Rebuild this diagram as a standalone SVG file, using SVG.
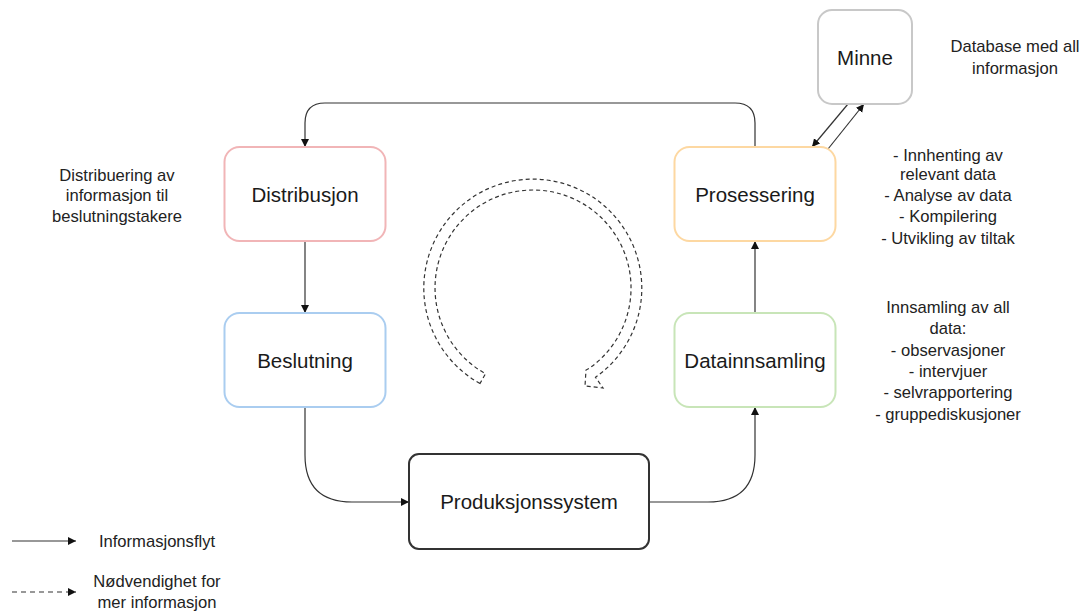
<svg xmlns="http://www.w3.org/2000/svg" width="1086" height="612" viewBox="0 0 1086 612">
  <style>
    .node { fill: #ffffff; stroke-width: 2; }
    .label { font-family: "Liberation Sans", Arial, sans-serif; font-size: 20.5px; fill: #1a1a1a; text-anchor: middle; dominant-baseline: central; }
    .note { font-family: "Liberation Sans", Arial, sans-serif; font-size: 16.6px; fill: #222222; text-anchor: middle; dominant-baseline: central; }
    .edge { fill: none; stroke: #333333; stroke-width: 1.2; }
    .dash { fill: none; stroke: #333333; stroke-width: 1.2; stroke-dasharray: 4 3; }
  </style>
  <defs>
    <marker id="arrow" markerUnits="userSpaceOnUse" markerWidth="10" markerHeight="10" refX="8" refY="4" orient="auto">
      <path d="M0,0 L8,4 L0,8 z" fill="#111111"/>
    </marker>
  </defs>

  <rect width="1086" height="612" fill="#ffffff"/>

  <!-- connectors -->
  <g id="connectors">
    <path class="edge" d="M755,147 L755,123 Q755,103 735,103 L325,103 Q305,103 305,123 L305,147" marker-end="url(#arrow)"/>
    <path class="edge" d="M305,241 L305,313" marker-end="url(#arrow)"/>
    <path class="edge" d="M305,407 L305,455 Q305,502 352,502 L409,502" marker-end="url(#arrow)"/>
    <path class="edge" d="M649,502 L708,502 Q755,502 755,455 L755,407" marker-end="url(#arrow)"/>
    <path class="edge" d="M755,313 L755,241" marker-end="url(#arrow)"/>
    <path class="edge" d="M848,104 L812,147" marker-end="url(#arrow)"/>
    <path class="edge" d="M828,149 L864,104" marker-end="url(#arrow)"/>
  </g>

  <!-- circular cycle arrow -->
  <g id="cycle">
    <path class="dash" d="M480,383.5 A109,109 0 1 1 595.5,377.3 L603,388 L585,386 L586,370 L589.2,368.3 A98,98 0 1 0 485.5,373.7 Z"/>
  </g>

  <!-- nodes -->
  <g id="distribusjon">
    <rect class="node" x="224.5" y="147" width="161" height="94" rx="15" stroke="#f1b5b7"/>
    <text class="label" x="305" y="194">Distribusjon</text>
  </g>
  <g id="beslutning">
    <rect class="node" x="224.5" y="313" width="161" height="94" rx="15" stroke="#aacdf0"/>
    <text class="label" x="305" y="360">Beslutning</text>
  </g>
  <g id="prosessering">
    <rect class="node" x="674.5" y="147" width="161" height="94" rx="15" stroke="#fdd8a2"/>
    <text class="label" x="755" y="194">Prosessering</text>
  </g>
  <g id="datainnsamling">
    <rect class="node" x="674.5" y="313" width="161" height="94" rx="15" stroke="#c8e5b8"/>
    <text class="label" x="755" y="360">Datainnsamling</text>
  </g>
  <g id="minne">
    <rect class="node" x="818" y="10" width="94" height="94" rx="14" stroke="#c8c8c8"/>
    <text class="label" x="865" y="57">Minne</text>
  </g>
  <g id="produksjonssystem">
    <rect class="node" x="409" y="454" width="240" height="95" rx="10" stroke="#333333"/>
    <text class="label" x="529" y="501">Produksjonssystem</text>
  </g>

  <!-- annotations -->
  <g id="note-distribusjon">
    <text class="note" x="117" y="175">Distribuering av</text>
    <text class="note" x="117" y="195">informasjon til</text>
    <text class="note" x="117" y="216">beslutningstakere</text>
  </g>
  <g id="note-minne">
    <text class="note" x="1015" y="46">Database med all</text>
    <text class="note" x="1015" y="68">informasjon</text>
  </g>
  <g id="note-prosessering">
    <text class="note" x="948" y="155">- Innhenting av</text>
    <text class="note" x="948" y="174">relevant data</text>
    <text class="note" x="948" y="195">- Analyse av data</text>
    <text class="note" x="948" y="216">- Kompilering</text>
    <text class="note" x="948" y="238">- Utvikling av tiltak</text>
  </g>
  <g id="note-datainnsamling">
    <text class="note" x="948" y="307">Innsamling av all</text>
    <text class="note" x="948" y="328">data:</text>
    <text class="note" x="948" y="350">- observasjoner</text>
    <text class="note" x="948" y="371">- intervjuer</text>
    <text class="note" x="948" y="392">- selvrapportering</text>
    <text class="note" x="948" y="414">- gruppediskusjoner</text>
  </g>

  <!-- legend -->
  <g id="legend">
    <path class="edge" d="M12,541 L76,541" marker-end="url(#arrow)"/>
    <text class="note" x="157" y="541">Informasjonsflyt</text>
    <path class="edge" d="M12,592 L76,592" stroke-dasharray="5 4" marker-end="url(#arrow)"/>
    <text class="note" x="157" y="581">Nødvendighet for</text>
    <text class="note" x="157" y="602">mer informasjon</text>
  </g>
</svg>
